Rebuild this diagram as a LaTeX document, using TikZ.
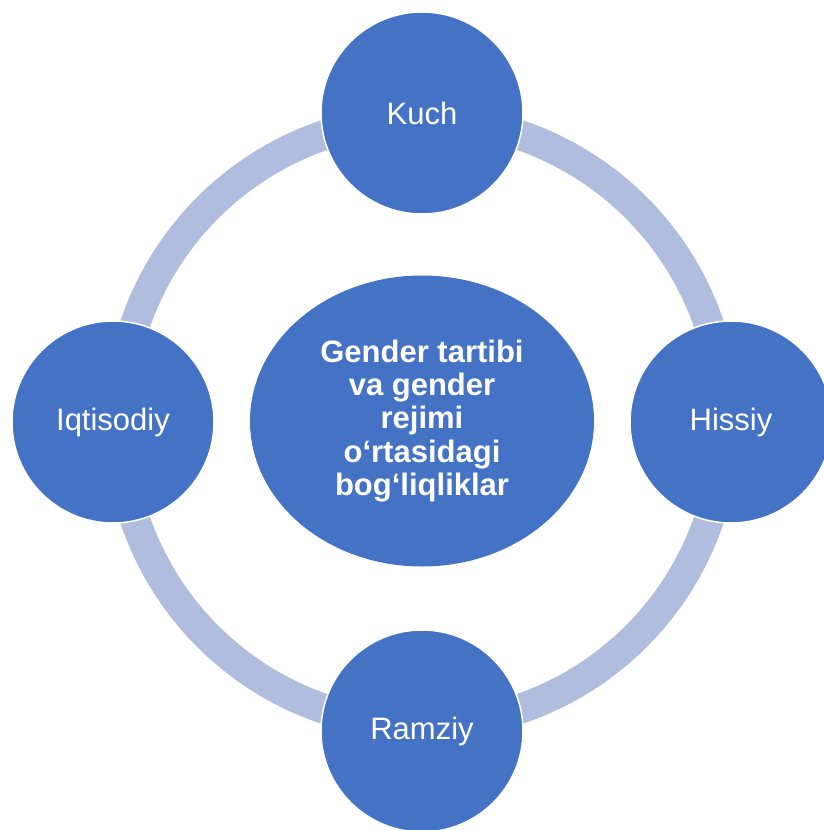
\documentclass[tikz,border=0pt]{standalone}
\usepackage{fontspec}
\setsansfont{Liberation Sans}
\usepackage{tikz}
\usetikzlibrary{shapes, shapes.geometric, calc}

\definecolor{bubble}{HTML}{4472C4}
\definecolor{ringblue}{RGB}{176,189,223}

\begin{document}
\begin{tikzpicture}[x=1pt, y=-1pt, font=\sffamily\fontsize{31}{33}\selectfont]
	\def\ring{309}
	\def\band{303}
	\tikzset{
		bubble/.style={circle, fill=bubble, draw=white, line width=1.5pt, text=white, minimum size=202pt, inner sep=0pt},
		hub/.style={ellipse, fill=bubble, text=white, minimum width=344pt, minimum height=291pt, inner sep=0pt, align=center, font=\sffamily\bfseries\fontsize{31}{33.3}\selectfont},
		ringline/.style={draw=ringblue, line width=30pt},
	}

	\useasboundingbox (0,0) rectangle (823,830);

	\coordinate (C) at (422,422);

	% the ring behind the bubbles
	\draw[ringline]	(C) circle (\band pt);

	\node[bubble] (kuch) at ($(C)+(0,-\ring)$) {Kuch};
	\node[bubble] (hissiy) at ($(C)+(\ring,0)$) {Hissiy};
	\node[bubble] (ramziy) at ($(C)+(0,\ring)$) {Ramziy};
	\node[bubble] (iqtisodiy) at ($(C)+(-\ring,0)$) {Iqtisodiy};

	\node[hub] (hub) at (422,421) {Gender tartibi\\va gender\\rejimi\\o‘rtasidagi\\bog‘liqliklar};
\end{tikzpicture}
\end{document}
